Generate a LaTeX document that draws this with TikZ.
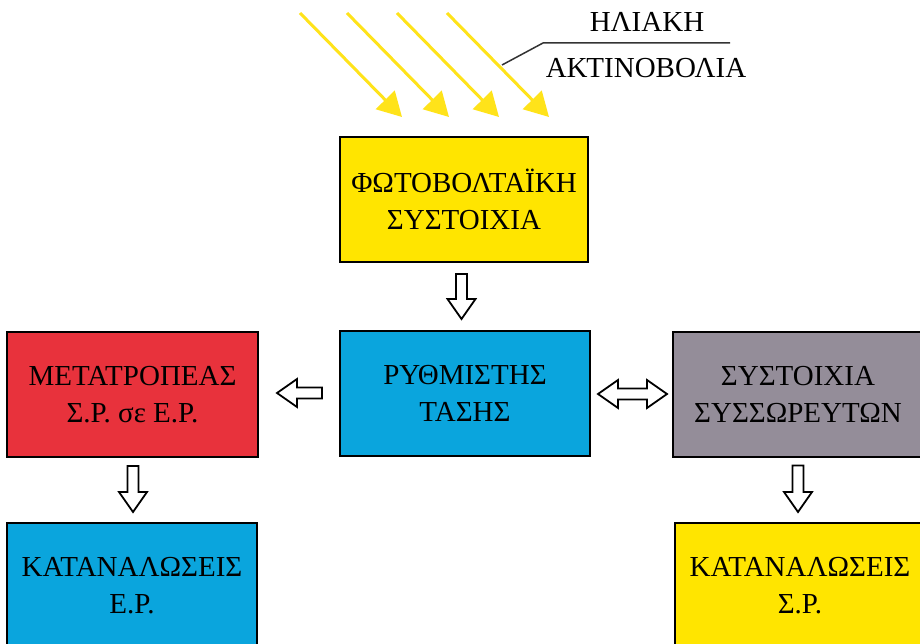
\documentclass[tikz,border=0pt]{standalone}
\usepackage{fontspec}
\setmainfont{Liberation Serif}
\usetikzlibrary{calc,arrows.meta}
\definecolor{boxyellow}{HTML}{FFE500}
\definecolor{boxblue}{HTML}{0AA5DD}
\definecolor{boxred}{HTML}{E8323C}
\definecolor{boxgrey}{HTML}{948D99}
\definecolor{rayyellow}{HTML}{FFE31A}
\definecolor{leader}{HTML}{333333}
\newcommand{\sw}{5.5pt}
\newcommand{\hw}{14pt}
\newcommand{\hl}{20pt}
\tikzset{
  blockbox/.style={draw=black, line width=2pt, minimum width=250pt, minimum height=125pt,
    align=center, inner sep=0pt, font=\fontsize{29}{37}\selectfont},
  hollowarrow/.style={draw=black, line width=1.8pt, fill=white, line join=miter,
    to path={
      ($(\tikztostart)!\sw!90:(\tikztotarget)$)
      -- ($($(\tikztotarget)!\hl!(\tikztostart)$)!\sw!90:(\tikztotarget)$)
      -- ($($(\tikztotarget)!\hl!(\tikztostart)$)!\hw!90:(\tikztotarget)$)
      -- (\tikztotarget)
      -- ($($(\tikztotarget)!\hl!(\tikztostart)$)!\hw!-90:(\tikztotarget)$)
      -- ($($(\tikztotarget)!\hl!(\tikztostart)$)!\sw!-90:(\tikztotarget)$)
      -- ($(\tikztostart)!\sw!-90:(\tikztotarget)$)
      -- cycle}},
  doublehollow/.style={draw=black, line width=1.8pt, fill=white, line join=miter,
    to path={
      (\tikztostart)
      -- ($($(\tikztostart)!\hl!(\tikztotarget)$)!\hw!-90:(\tikztotarget)$)
      -- ($($(\tikztostart)!\hl!(\tikztotarget)$)!\sw!-90:(\tikztotarget)$)
      -- ($($(\tikztotarget)!\hl!(\tikztostart)$)!\sw!90:(\tikztostart)$)
      -- ($($(\tikztotarget)!\hl!(\tikztostart)$)!\hw!90:(\tikztostart)$)
      -- (\tikztotarget)
      -- ($($(\tikztotarget)!\hl!(\tikztostart)$)!\hw!-90:(\tikztostart)$)
      -- ($($(\tikztotarget)!\hl!(\tikztostart)$)!\sw!-90:(\tikztostart)$)
      -- ($($(\tikztostart)!\hl!(\tikztotarget)$)!\sw!90:(\tikztotarget)$)
      -- ($($(\tikztostart)!\hl!(\tikztotarget)$)!\hw!90:(\tikztotarget)$)
      -- cycle}},
  ray/.style={draw=rayyellow, line width=3pt, -{Triangle[length=24pt,width=26pt]}},
  labeltext/.style={font=\fontsize{29}{37}\selectfont, inner sep=0pt}
}
\begin{document}
\begin{tikzpicture}[x=1pt,y=-1pt]
\useasboundingbox (0,0) rectangle (920,644);
\clip (0,0) rectangle (920,644);
\fill[white] (0,0) rectangle (920,644);
% boxes
\node[blockbox, fill=boxyellow, minimum width=248pt] (pv) at (464,199.5) {ΦΩΤΟΒΟΛΤΑΪΚΗ\\ΣΥΣΤΟΙΧΙΑ};
\node[blockbox, fill=boxblue] (reg) at (465,393.5) {ΡΥΘΜΙΣΤΗΣ\\ΤΑΣΗΣ};
\node[blockbox, fill=boxred, minimum width=251pt] (inv) at (132.5,394.5) {ΜΕΤΑΤΡΟΠΕΑΣ\\Σ.Ρ. σε Ε.Ρ.};
\node[blockbox, fill=boxgrey] (bat) at (798,394) {ΣΥΣΤΟΙΧΙΑ\\ΣΥΣΣΩΡΕΥΤΩΝ};
\node[blockbox, fill=boxblue] (loadac) at (132,585.5) {ΚΑΤΑΝΑΛΩΣΕΙΣ\\Ε.Ρ.};
\node[blockbox, fill=boxyellow] (loaddc) at (800,585.5) {ΚΑΤΑΝΑΛΩΣΕΙΣ\\Σ.Ρ.};
% hollow arrows
\draw[hollowarrow] ([yshift=-11pt]pv.south -| 461.5,0) to ([yshift=11pt]reg.north -| 461.5,0);
\draw[hollowarrow] ([xshift=-17pt]reg.west |- 0,393) to ([xshift=18pt]inv.east |- 0,393);
\draw[doublehollow] ([xshift=7pt]reg.east |- 0,394) to ([xshift=-5pt]bat.west |- 0,394);
\draw[hollowarrow] ([yshift=-8pt]inv.south -| 133,0) to ([yshift=10pt]loadac.north -| 133,0);
\draw[hollowarrow] ([yshift=-8pt]bat.south -| 798,0) to ([yshift=10pt]loaddc.north -| 798,0);
% sun rays
\foreach \i/\dx in {1/0,2/47,3/97,4/147}{
  \coordinate (rs\i) at (300+\dx,13);
  \coordinate (re\i) at (402+\dx,117);
  \draw[ray] (rs\i) -- (re\i);
}
% label
\node[labeltext] (l1) at (647,22) {ΗΛΙΑΚΗ};
\node[labeltext] (l2) at (646,68) {ΑΚΤΙΝΟΒΟΛΙΑ};
\coordinate (lead0) at (502,65);
\coordinate (lead1) at (543,43);
\coordinate (lead2) at (730,43);
\draw[leader, line width=1.5pt] (lead0) -- (lead1) -- (lead2);
\end{tikzpicture}
\end{document}
